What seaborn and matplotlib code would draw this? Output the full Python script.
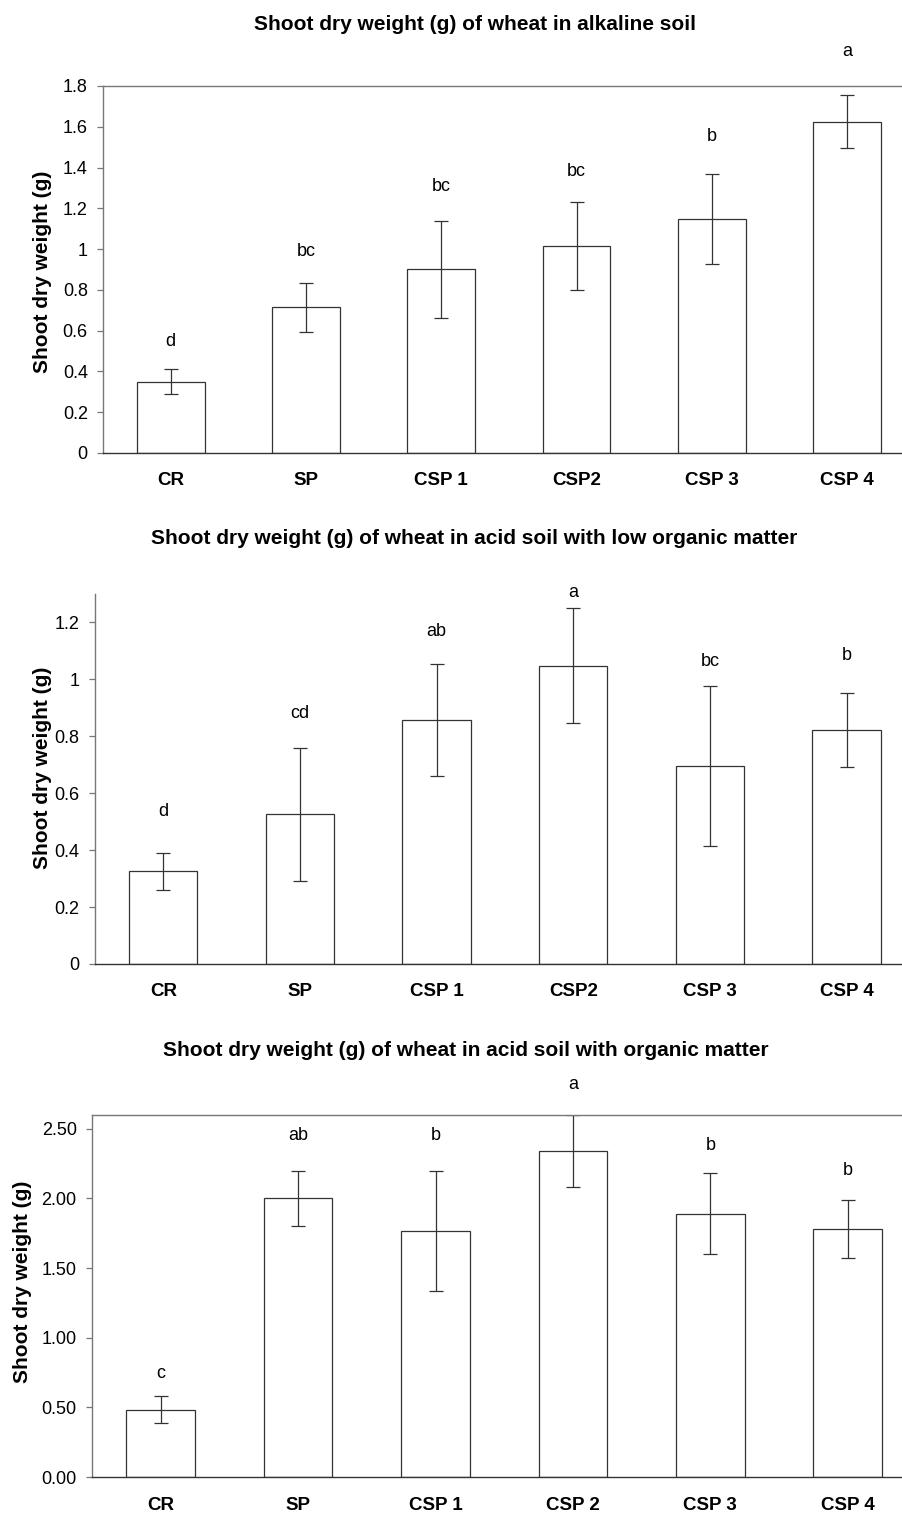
import pandas as pd
import matplotlib
matplotlib.use("Agg")
import matplotlib.pyplot as plt
import seaborn as sns

# data
treatments = ["CR", "SP", "CSP 1", "CSP2", "CSP 3", "CSP 4"]
treatments_om = ["CR", "SP", "CSP 1", "CSP 2", "CSP 3", "CSP 4"]

alk_mean = [0.35, 0.715, 0.90, 1.015, 1.148, 1.625]
alk_err = [0.06, 0.12, 0.237, 0.215, 0.222, 0.13]
alk_letters = ["d", "bc", "bc", "bc", "b", "a"]
alk_letter_y = [0.545, 0.99, 1.305, 1.38, 1.55, 1.97]

low_mean = [0.325, 0.526, 0.858, 1.048, 0.696, 0.822]
low_err = [0.065, 0.234, 0.196, 0.203, 0.281, 0.13]
low_letters = ["d", "cd", "ab", "a", "bc", "b"]
low_letter_y = [0.537, 0.879, 1.168, 1.306, 1.062, 1.083]

om_mean = [0.485, 2.0, 1.765, 2.34, 1.89, 1.78]
om_err = [0.095, 0.195, 0.43, 0.26, 0.29, 0.21]
om_letters = ["c", "ab", "b", "a", "b", "b"]
om_letter_y = [0.74, 2.45, 2.45, 2.82, 2.38, 2.20]

sns.set_style("white")
plt.rcParams['font.family'] = ['Liberation Sans', 'DejaVu Sans']
plt.rcParams['text.color'] = 'black'
plt.rcParams['xtick.color'] = 'black'
plt.rcParams['ytick.color'] = 'black'
plt.rcParams['axes.labelcolor'] = 'black'

W, H = 903, 1514
fig = plt.figure(figsize=(W / 100, H / 100), dpi=100)


def panel(rect, cats, means, errs, letters, letter_y, ymax, yticks, fmt, title, title_xy,
          label_xy, spine_top=True):
    ax = fig.add_axes(rect)
    df = pd.DataFrame({"treatment": cats, "weight": means})
    sns.barplot(data=df, x="treatment", y="weight", color="white", edgecolor="#333333",
                linewidth=0.9, width=0.5, ax=ax, errorbar=None)
    ax.errorbar(range(len(cats)), means, yerr=errs, fmt="none", ecolor="#333333",
                elinewidth=0.9, capsize=5, capthick=0.9)
    for i, (lab, ly) in enumerate(zip(letters, letter_y)):
        ax.text(i, ly, lab, ha="center", va="center", fontsize=13, clip_on=False)
    ax.set_xlim(-0.5, len(cats) - 0.5)
    ax.set_ylim(0, ymax)
    ax.set_yticks(yticks)
    ax.set_yticklabels([fmt(v) for v in yticks], fontsize=13)
    ax.set_xticks(range(len(cats)))
    ax.set_xticklabels(cats, fontsize=13.5, fontweight="bold")
    ax.set_xticks([i + 0.5 for i in range(-1, len(cats))], minor=True)
    ax.tick_params(axis="x", which="major", length=0, pad=14)
    ax.tick_params(axis="x", which="minor", length=5, direction="out", width=0.9, color="#777777")
    ax.tick_params(axis="y", length=4, direction="out", width=0.9, left=True, color="#777777", pad=7)
    ax.set_xlabel("")
    ax.set_ylabel("Shoot dry weight (g)", fontsize=15, fontweight="bold")
    ax.yaxis.set_label_coords(label_xy[0] / W, 1 - label_xy[1] / H, transform=fig.transFigure)
    for s in ax.spines.values():
        s.set_color("#777777")
        s.set_linewidth(1.0)
    ax.spines["bottom"].set_color("#333333")
    ax.spines["top"].set_visible(spine_top)
    fig.text(title_xy[0] / W, 1 - title_xy[1] / H, title, ha="center", va="center",
             fontsize=15, fontweight="bold")
    return ax


def gen(v):
    return f"{v:g}"


def two(v):
    return f"{v:.2f}"


panel([0.1141, 0.7008, 0.899, 0.2424], treatments, alk_mean, alk_err, alk_letters, alk_letter_y,
      1.8, [0, 0.2, 0.4, 0.6, 0.8, 1.0, 1.2, 1.4, 1.6, 1.8], gen,
      "Shoot dry weight (g) of wheat in alkaline soil", (475, 24), (52, 272))

panel([0.1052, 0.3633, 0.908, 0.2444], treatments, low_mean, low_err, low_letters, low_letter_y,
      1.3, [0, 0.2, 0.4, 0.6, 0.8, 1.0, 1.2], gen,
      "Shoot dry weight (g) of wheat in acid soil with low organic matter", (474, 538), (52, 768),
      spine_top=False)

panel([0.1019, 0.0244, 0.913, 0.2392], treatments_om, om_mean, om_err, om_letters, om_letter_y,
      2.6, [0, 0.5, 1.0, 1.5, 2.0, 2.5], two,
      "Shoot dry weight (g) of wheat in acid soil with organic matter", (466, 1051), (32, 1282))

fig.savefig("out.png", dpi=100)
